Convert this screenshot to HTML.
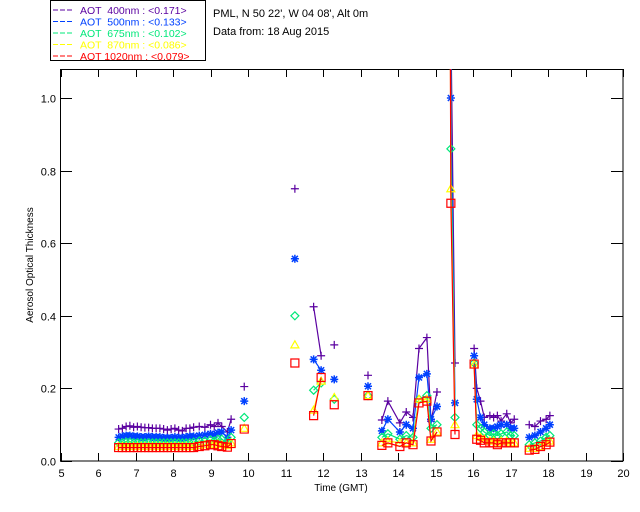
<!DOCTYPE html>
<html><head><meta charset="utf-8"><style>
body{margin:0;background:#fff;}
svg{display:block;font-family:"Liberation Sans",sans-serif;}
</style></head><body>
<svg id="chart" width="640" height="512">
<g>
<rect x="50.5" y="0.5" width="155" height="60" fill="#fff" stroke="#000"/>
</g>
<text x="213" y="17" font-size="11">PML, N 50 22', W 04 08', Alt 0m</text>
<text x="213" y="35" font-size="11">Data from: 18 Aug 2015</text>
<text transform="translate(33,265) rotate(-90)" font-size="10" text-anchor="middle">Aerosol Optical Thickness</text>
<text x="341" y="491" font-size="10" text-anchor="middle">Time (GMT)</text>
<defs><clipPath id="cp"><rect x="60.5" y="69" width="562.5" height="392"/></clipPath></defs>
<g id="axes"></g>
<g id="marks" clip-path="url(#cp)"></g>
<g id="legend"></g>
</svg>
<script>
const times=[6.55,6.65,6.75,6.85,6.95,7.05,7.15,7.25,7.35,7.45,7.55,7.65,7.75,7.85,7.95,8.05,8.15,8.25,8.35,8.45,8.55,8.7,8.85,9.0,9.1,9.2,9.3,9.45,9.55,
9.9,11.25,11.75,11.95,12.3,13.2,13.57,13.73,14.05,14.22,14.4,14.56,14.77,14.88,15.04,15.39,15.41,15.52,
16.03,16.1,16.2,16.3,16.45,16.55,16.65,16.75,16.9,17.0,17.1,17.5,17.65,17.8,17.95,18.05];
const aot400=[.088,.09,.095,.097,.093,.095,.093,.092,.092,.09,.09,.09,.088,.085,.088,.09,.085,.083,.09,.09,.093,.095,.093,.1,.095,.105,.095,.08,.115,
.205,.75,.425,.29,.32,.236,.113,.165,.105,.135,.12,.31,.34,.11,.19,1.5,1.2,.27,
.31,.2,.165,.12,.125,.12,.125,.11,.13,.105,.115,.1,.095,.11,.115,.125];
const aot500=[.065,.068,.07,.07,.068,.068,.066,.066,.068,.066,.066,.066,.064,.064,.064,.066,.064,.064,.066,.068,.068,.07,.072,.075,.072,.078,.08,.065,.085,
.165,.557,.28,.25,.225,.206,.083,.115,.08,.1,.09,.23,.24,.115,.15,1.45,1.0,.16,
.29,.17,.12,.1,.09,.09,.095,.1,.1,.09,.09,.065,.07,.08,.09,.1];
const aot675=[.05,.05,.052,.052,.05,.05,.05,.05,.05,.05,.05,.05,.05,.05,.05,.05,.05,.05,.05,.05,.052,.055,.055,.058,.055,.06,.06,.05,.065,
.12,.40,.195,.215,.17,.18,.065,.075,.06,.07,.065,.17,.18,.09,.1,1.4,.86,.12,
.27,.1,.09,.08,.07,.075,.07,.075,.08,.07,.07,.045,.05,.055,.065,.07];
const aot870=[.04,.04,.04,.04,.04,.04,.04,.04,.04,.04,.04,.04,.04,.04,.04,.04,.04,.04,.04,.04,.04,.043,.045,.047,.045,.047,.045,.042,.05,
.09,.32,.14,.22,.175,.18,.05,.055,.05,.05,.05,.17,.17,.06,.08,1.35,.75,.1,
.265,.07,.065,.06,.055,.055,.05,.055,.055,.05,.05,.035,.035,.04,.05,.055];
const aot1020=[.037,.037,.037,.037,.037,.037,.037,.037,.037,.037,.037,.037,.037,.037,.037,.037,.037,.037,.037,.037,.037,.04,.042,.045,.045,.042,.04,.038,.048,
.088,.27,.125,.23,.155,.18,.043,.05,.04,.05,.045,.16,.165,.055,.08,1.3,.71,.073,
.267,.06,.057,.05,.05,.05,.045,.05,.05,.05,.05,.03,.032,.04,.045,.052];
const xTicks=[5,6,7,8,9,10,11,12,13,14,15,16,17,18,19,20];
const yTicks=[0.0,0.2,0.4,0.6,0.8,1.0];
const seriesNames=["400nm","500nm","675nm","870nm","1020nm"];
const seriesMeans=["<0.171>","<0.133>","<0.102>","<0.086>","<0.079>"];
const colors=["#5a00a0","#0040ff","#00e87a","#ffff00","#ff0000"];
const NS="http://www.w3.org/2000/svg";
const X=t=>60.5+(t-5)*37.5, Y=v=>461-v*363;
function mk(tag,attrs,parent){const e=document.createElementNS(NS,tag);for(const k in attrs)e.setAttribute(k,attrs[k]);parent.appendChild(e);return e;}
const axes=document.getElementById('axes'),marks=document.getElementById('marks'),leg=document.getElementById('legend');
const frame=mk('rect',{x:60.5,y:69.5,width:562.5,height:391.5,fill:'none',stroke:'#000'},axes);


xTicks.forEach(t=>{
 const x=Math.round(X(t))+0.5;
 const tb=mk('path',{d:`M${x} 461V453M${x} 69V77`,stroke:'#000'},axes);
 
 
 const l=mk('text',{x:x,y:477,'font-size':11,'text-anchor':'middle'},axes);l.textContent=t;
 
 
});
yTicks.forEach(v=>{
 const y=Math.round(Y(v))+0.5;
 const tk=mk('path',{d:`M60.5 ${y}H72M623 ${y}H611`,stroke:'#000'},axes);
 
 
 const l=mk('text',{x:56,y:y+4,'font-size':11,'text-anchor':'end'},axes);l.textContent=v.toFixed(1);
 
 
});
function sym(k,x,y,c,g){
 let d;
 if(k===0)d=`M${x-4} ${y}H${x+4}M${x} ${y-4}V${y+4}`;
 else if(k===1)d=`M${x-4} ${y}H${x+4}M${x} ${y-4}V${y+4}M${x-3} ${y-3}L${x+3} ${y+3}M${x-3} ${y+3}L${x+3} ${y-3}`;
 else if(k===2)d=`M${x} ${y-4}L${x+4} ${y}L${x} ${y+4}L${x-4} ${y}Z`;
 else if(k===3)d=`M${x} ${y-4}L${x+4} ${y+3}L${x-4} ${y+3}Z`;
 else d=`M${x-4} ${y-4}H${x+4}V${y+4}H${x-4}Z`;
 const p=mk('path',{d:d,stroke:c,fill:'none','stroke-width':k===1?1.5:1.2},g);
 return p;
}
[aot400,aot500,aot675,aot870,aot1020].forEach((vals,k)=>{
 const g=mk('g',{},marks);
 
 
 let d='';
 for(let i=0;i<times.length;i++){
  const x=X(times[i]),y=Y(vals[i]);
  d+=(i>0&&times[i]-times[i-1]<0.34?'L':'M')+x.toFixed(1)+' '+y.toFixed(1);
 }
 const ln=mk('path',{d:d,stroke:colors[k],fill:'none','stroke-width':1.2},g);
 
 
 for(let i=0;i<times.length;i++){
  const p=sym(k,X(times[i]),Y(vals[i]),colors[k],g);
  
  
 }
});
seriesNames.forEach((n,k)=>{
 const y=10+k*11.5;
 const g=mk('g',{},leg);
 
 
 mk('path',{d:`M53 ${y}H73`,stroke:colors[k],'stroke-dasharray':'5 2'},g);
 const t=mk('text',{x:80,y:y+4,'font-size':10.5,fill:colors[k]},g);
 t.textContent='AOT '+(n.length<6?'\u00a0':'')+n+' : '+seriesMeans[k];
});
</script>
</body></html>
